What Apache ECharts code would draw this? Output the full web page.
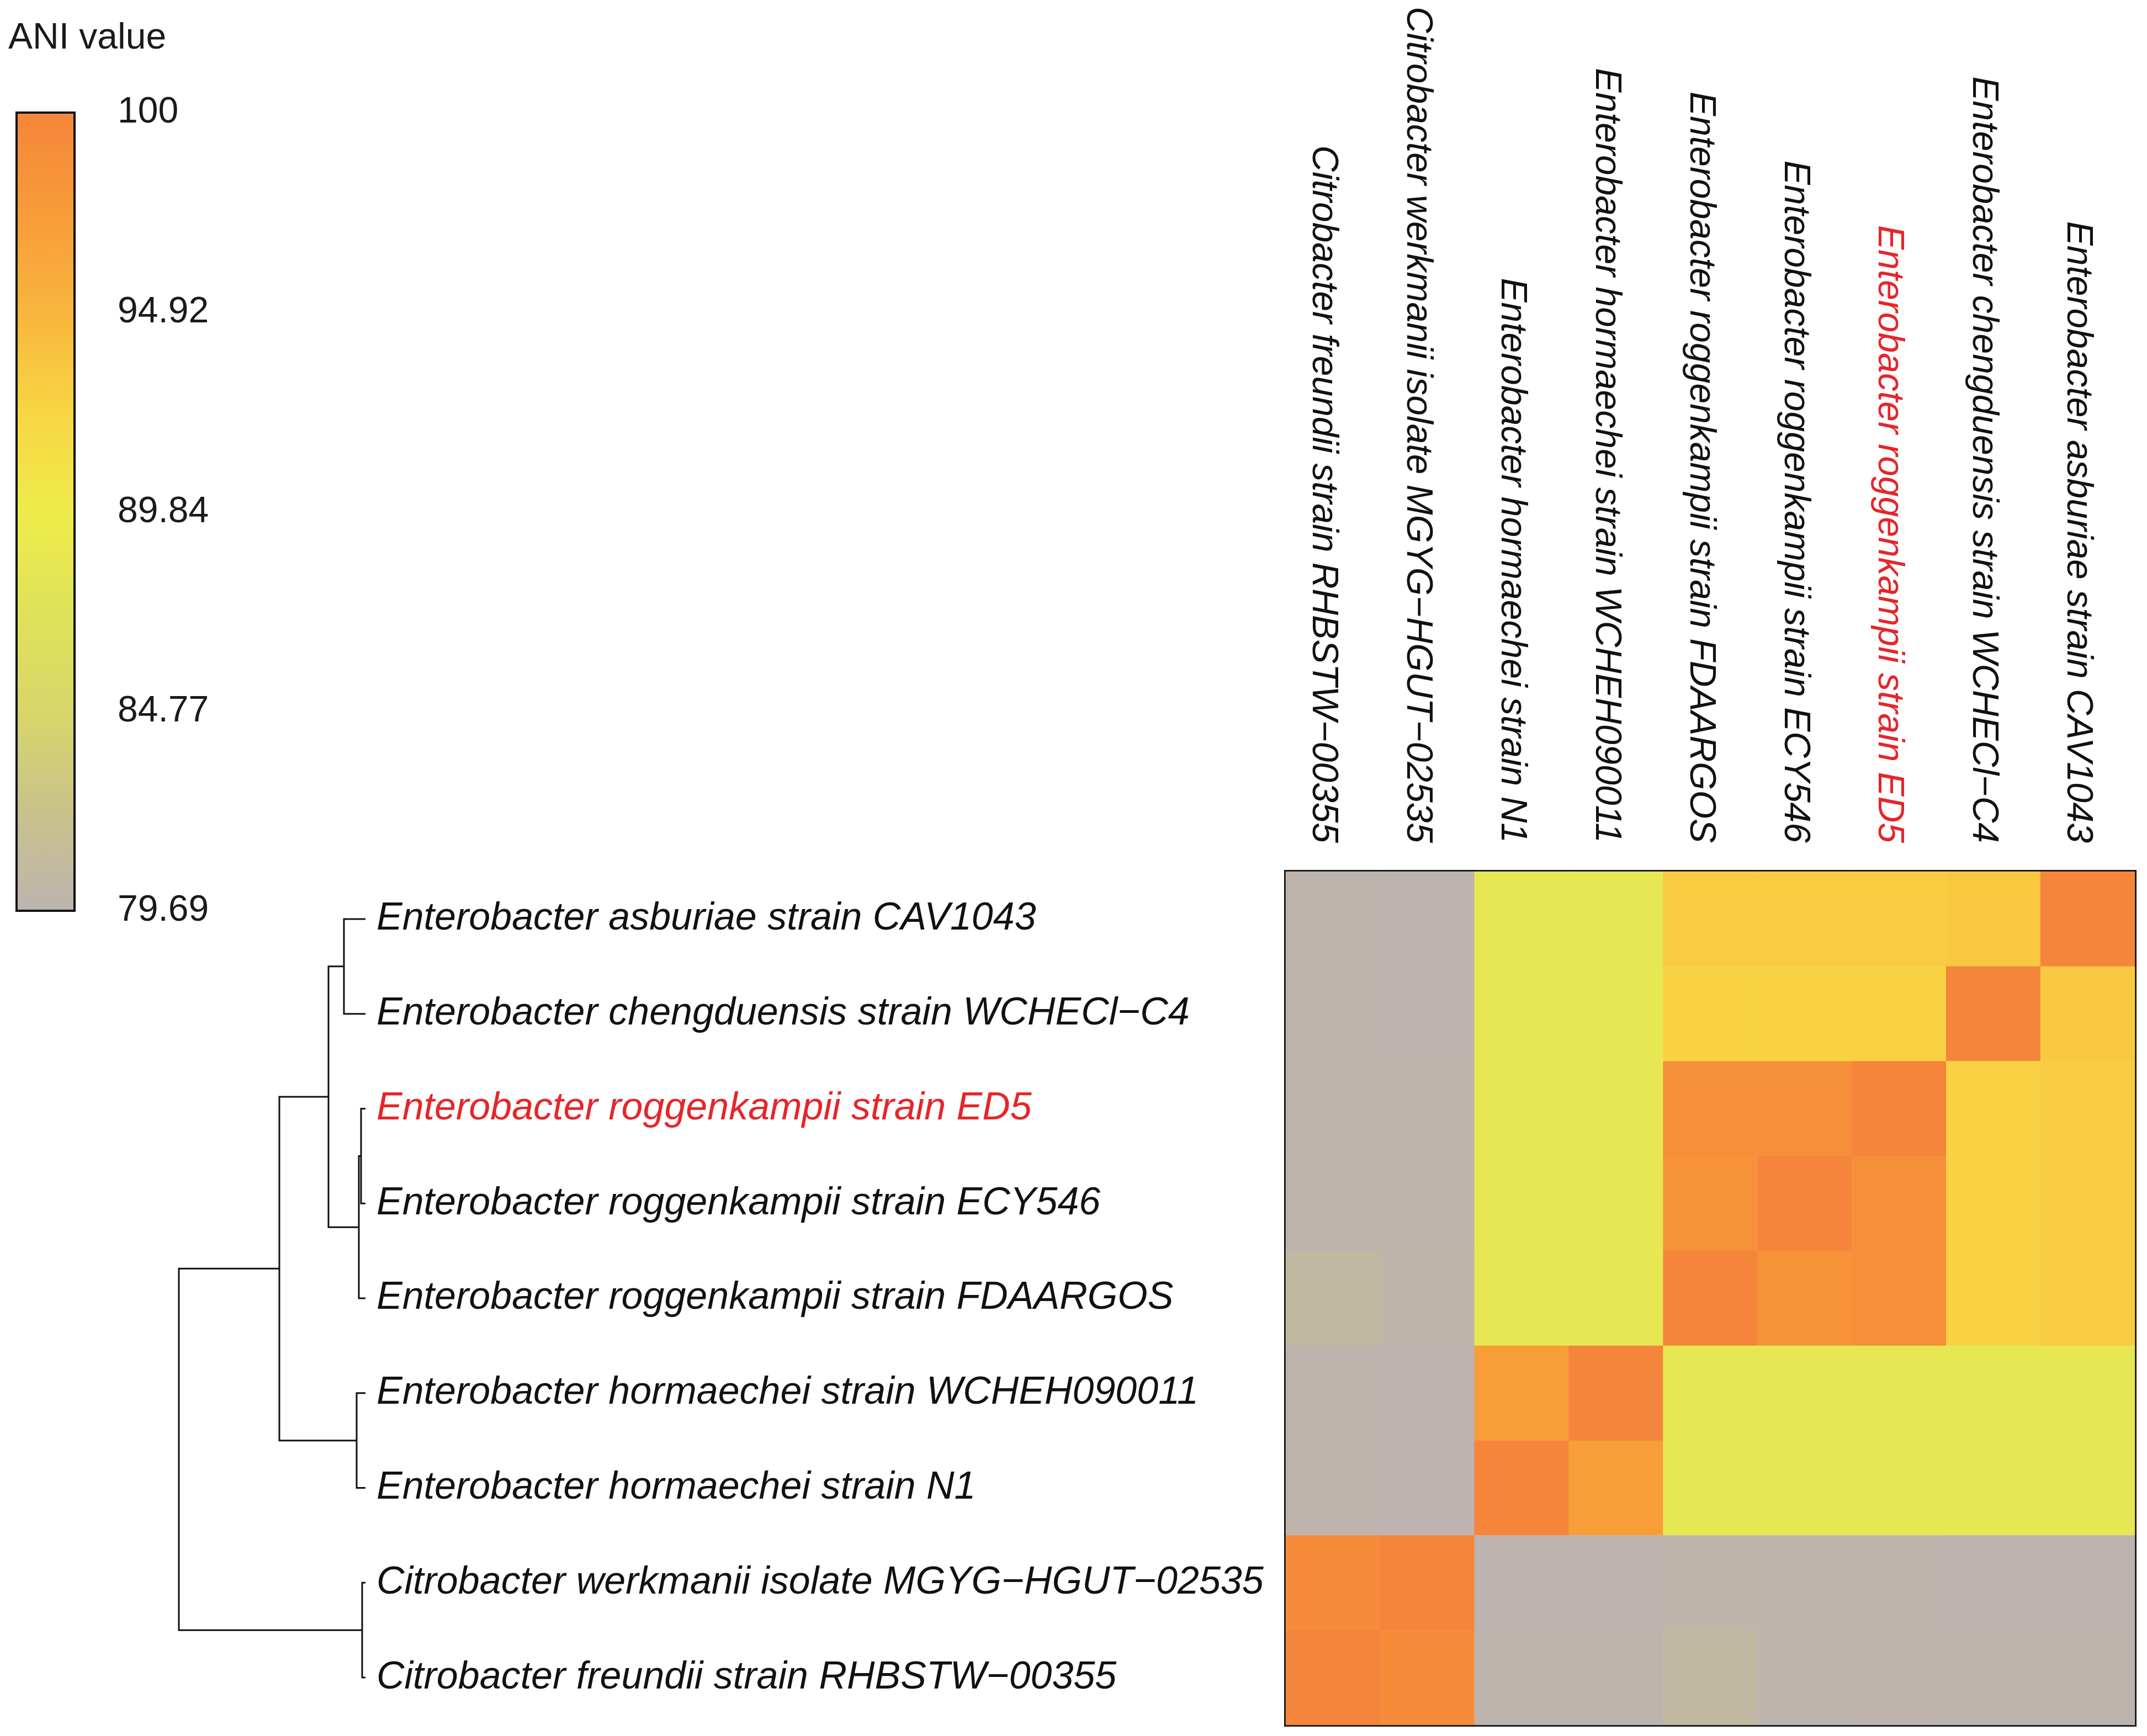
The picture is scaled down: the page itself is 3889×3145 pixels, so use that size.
<!DOCTYPE html>
<html>
<head>
<meta charset="utf-8">
<script src="https://cdn.jsdelivr.net/npm/echarts@6/dist/echarts.min.js"></script>
<style>
html,body{margin:0;padding:0;background:#ffffff;}
#chart{width:3889px;height:3145px;}
</style>
</head>
<body>
<div id="chart"></div>
<script>
// ---------------- DATA ----------------
// Strains in dendrogram (row) order, top to bottom
const strains = [
  'Enterobacter asburiae strain CAV1043',
  'Enterobacter chengduensis strain WCHECl\u2212C4',
  'Enterobacter roggenkampii strain ED5',
  'Enterobacter roggenkampii strain ECY546',
  'Enterobacter roggenkampii strain FDAARGOS',
  'Enterobacter hormaechei strain WCHEH090011',
  'Enterobacter hormaechei strain N1',
  'Citrobacter werkmanii isolate MGYG\u2212HGUT\u221202535',
  'Citrobacter freundii strain RHBSTW\u221200355'
];
// Columns are the same strains in reverse order (left to right)
const columns = strains.slice().reverse();
const highlightedStrain = 'Enterobacter roggenkampii strain ED5';

// ANI values (%) per strain, against strains in row order
const aniAsburiae      = [100.0, 93.4, 93.2, 93.2, 93.2, 88.5, 88.5, 79.75, 79.8];
const aniChengduensis  = [93.4, 100.0, 92.6, 92.6, 92.6, 88.5, 88.5, 79.75, 79.8];
const aniRoggED5       = [93.2, 92.6, 100.0, 98.9, 98.8, 88.5, 88.5, 79.8, 79.9];
const aniRoggECY546    = [93.2, 92.6, 98.9, 100.0, 98.4, 88.5, 88.5, 79.8, 79.85];
const aniRoggFDAARGOS  = [93.2, 92.6, 98.8, 98.4, 100.0, 88.5, 88.5, 80.1, 80.6];
const aniHormWCHEH     = [88.5, 88.5, 88.5, 88.5, 88.5, 100.0, 97.2, 79.75, 79.8];
const aniHormN1        = [88.5, 88.5, 88.5, 88.5, 88.5, 97.2, 100.0, 79.7, 79.8];
const aniWerkmanii     = [79.75, 79.75, 79.8, 79.8, 80.1, 79.75, 79.7, 100.0, 99.3];
const aniFreundii      = [79.8, 79.8, 79.9, 79.85, 80.6, 79.8, 79.8, 99.3, 100.0];
const aniMatrix = [aniAsburiae, aniChengduensis, aniRoggED5, aniRoggECY546, aniRoggFDAARGOS,
                   aniHormWCHEH, aniHormN1, aniWerkmanii, aniFreundii];

// Dendrogram merges (hclust style: negative = leaf number, positive = merge step)
const mergeA = [-1, -3, 2, 1, -6, 4, -8, 6];
const mergeB = [-2, -4, -5, 3, -7, 5, -9, 7];
const mergeHeight = [0.39, 0.08, 0.12, 0.67, 0.16, 1.56, 0.06, 3.38];

// Colour scale
const colorbarRange = [79.69, 100];
const colorbarTicks = [79.69, 84.77, 89.84, 94.92, 100];
const paletteColors = ['#bdb3b0', '#c9c28a', '#d8d66a', '#dfe258', '#eeec4b',
                       '#f8d543', '#f8b53d', '#f79b39', '#f5853a'];

// ---------------- BUILD ----------------
const FONT = "'Liberation Sans', Arial, Helvetica, sans-serif";
const RED = '#e5262a';
const INK = '#111111';

const heatData = [];
for (let r = 0; r < strains.length; r++) {
  for (let c = 0; c < columns.length; c++) {
    const j = strains.length - 1 - c;
    heatData.push([c, r, aniMatrix[r][j]]);
  }
}

// dendrogram segments
const nodeY = [], nodeH = [];
function childPos(ref) {
  if (ref < 0) return [-ref - 1, 0];
  return [nodeY[ref - 1], nodeH[ref - 1]];
}
const dendroData = [];
for (let i = 0; i < mergeA.length; i++) {
  const a = childPos(mergeA[i]);
  const b = childPos(mergeB[i]);
  nodeY.push((a[0] + b[0]) / 2);
  nodeH.push(mergeHeight[i]);
  dendroData.push([mergeHeight[i], a[0], a[1], b[0], b[1]]);
}
const rootHeight = Math.max.apply(null, mergeHeight);

const gradStops = paletteColors.map((col, i) => ({
  offset: i / (paletteColors.length - 1),
  color: paletteColors[paletteColors.length - 1 - i]
}));

const labelColor = function (value) {
  return value === highlightedStrain ? RED : INK;
};

// Layout
const HM = {left: 2329, top: 1579, width: 1538, height: 1546};
const DG = {left: 324, top: HM.top, width: 338, height: HM.height};
const CB = {left: 30, top: 204, width: 105, height: 1446};

const chart = echarts.init(document.getElementById('chart'), null, {renderer: 'canvas'});

const option = {
  animation: false,
  backgroundColor: '#ffffff',
  textStyle: {fontFamily: FONT},
  title: {
    text: 'ANI value',
    left: 10, top: 30,
    textStyle: {fontFamily: FONT, fontSize: 66, fontWeight: 'normal', color: '#1a1a1a', lineHeight: 70}
  },
  grid: [
    {left: CB.left, top: CB.top, width: CB.width, height: CB.height, containLabel: false},
    {left: DG.left, top: DG.top, width: DG.width, height: DG.height, containLabel: false},
    {left: HM.left, top: HM.top, width: HM.width, height: HM.height, containLabel: false,
     show: true, borderColor: INK, borderWidth: 6, backgroundColor: 'transparent'}
  ],
  xAxis: [
    {gridIndex: 0, type: 'value', min: 0, max: 1, show: false},
    {gridIndex: 1, type: 'value', min: 0, max: rootHeight, inverse: true, show: false},
    {gridIndex: 2, type: 'category', data: columns, position: 'top',
     axisLine: {show: false}, axisTick: {show: false}, splitLine: {show: false},
     axisLabel: {interval: 0, rotate: 90, margin: 52, fontSize: 66, fontStyle: 'italic',
                 fontFamily: FONT, color: labelColor, verticalAlign: 'top', lineHeight: 36}}
  ],
  yAxis: [
    {gridIndex: 0, type: 'value', min: colorbarRange[0], max: colorbarRange[1], position: 'right',
     axisLine: {show: false}, splitLine: {show: false},
     axisTick: {show: true, customValues: colorbarTicks, length: 28, lineStyle: {color: INK, width: 3}},
     axisLabel: {customValues: colorbarTicks, margin: 78, fontSize: 66, color: '#1a1a1a', fontFamily: FONT,
                 formatter: function (v) { return String(v); }}},
    {gridIndex: 1, type: 'value', min: -0.5, max: strains.length - 0.5, inverse: true, show: false},
    {gridIndex: 1, type: 'category', data: strains, inverse: true, position: 'right',
     axisLine: {show: false}, axisTick: {show: false}, splitLine: {show: false},
     axisLabel: {interval: 0, margin: 20, fontSize: 70, fontStyle: 'italic', fontFamily: FONT,
                 color: labelColor, align: 'left'}},
    {gridIndex: 2, type: 'category', data: strains, inverse: true, show: false}
  ],
  visualMap: {
    type: 'continuous', show: false, seriesIndex: 2,
    min: colorbarRange[0], max: colorbarRange[1],
    inRange: {color: paletteColors}
  },
  series: [
    {
      type: 'custom', xAxisIndex: 0, yAxisIndex: 0, silent: true,
      data: [[0, colorbarRange[0]]],
      renderItem: function (params, api) {
        const tl = api.coord([0, colorbarRange[1]]);
        const br = api.coord([1, colorbarRange[0]]);
        return {
          type: 'rect',
          shape: {x: tl[0], y: tl[1], width: br[0] - tl[0], height: br[1] - tl[1]},
          style: {fill: new echarts.graphic.LinearGradient(0, 0, 0, 1, gradStops), stroke: INK, lineWidth: 4}
        };
      }
    },
    {
      type: 'custom', xAxisIndex: 1, yAxisIndex: 1, silent: true,
      data: dendroData,
      encode: {x: [0, 2, 4], y: [1, 3]},
      renderItem: function (params, api) {
        const h = api.value(0), ya = api.value(1), ha = api.value(2), yb = api.value(3), hb = api.value(4);
        const p1 = api.coord([ha, ya]);
        const p2 = api.coord([h, ya]);
        const p3 = api.coord([h, yb]);
        const p4 = api.coord([hb, yb]);
        return {
          type: 'polyline',
          shape: {points: [p1, p2, p3, p4]},
          style: {stroke: INK, lineWidth: 3, fill: null, lineJoin: 'miter'}
        };
      }
    },
    {
      type: 'heatmap', xAxisIndex: 2, yAxisIndex: 3, silent: true,
      data: heatData,
      itemStyle: {borderWidth: 0},
      emphasis: {disabled: true},
      progressive: 0
    }
  ]
};
chart.setOption(option);
</script>
</body>
</html>
